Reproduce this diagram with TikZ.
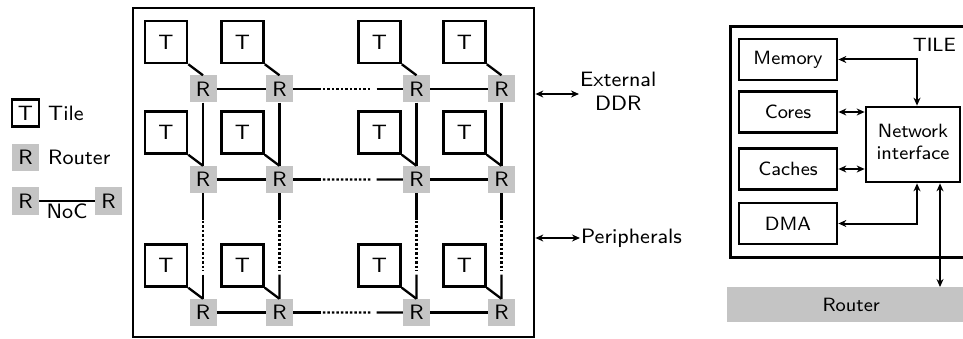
\documentclass[tikz,border=0pt]{standalone}
\usetikzlibrary{arrows.meta,calc}
\definecolor{rgray}{RGB}{196,196,196}
\newcommand{\lefttxt}[1]{\scalebox{2.6}{\sffamily\fontsize{8}{9}\selectfont #1}}
\newcommand{\leftstack}[1]{\scalebox{2.6}{\sffamily\fontsize{8}{9}\selectfont\begin{tabular}{@{}c@{}}#1\end{tabular}}}
\newcommand{\righttxt}[1]{\scalebox{2.4}{\sffamily\fontsize{8}{9.2}\selectfont #1}}
\newcommand{\rightstack}[1]{\scalebox{2.4}{\sffamily\fontsize{8}{9.2}\selectfont\begin{tabular}{@{}c@{}}#1\end{tabular}}}
\begin{document}
\begin{tikzpicture}[x=1pt,y=-1pt,
  tilebox/.style={draw, line width=2.5pt, minimum width=42pt, minimum height=42pt, inner sep=0pt},
  rnode/.style={fill=rgray, minimum size=27pt, inner sep=0pt},
  link/.style={line width=2.3pt},
  dotlink/.style={line width=2.3pt, dash pattern=on 2.5pt off 2pt},
  biarrow/.style={line width=2pt, {Stealth[length=8pt,width=7pt]}-{Stealth[length=8pt,width=7pt]}},
  blk/.style={draw, line width=2.7pt, minimum width=98pt, minimum height=41pt, inner sep=0pt},
]
\useasboundingbox (0,0) rectangle (963,339);
% chip
\node[draw, line width=2.7pt, minimum width=401pt, minimum height=329pt, inner sep=0pt] (chip) at (333.5,172.5) {};
% grid
\foreach \c/\x in {1/203,2/279.5,3/416.5,4/501.5}{
  \foreach \r/\y in {1/89,2/179.5,3/312.5}{
    \node[rnode] (R\r\c) at (\x,\y) {\lefttxt{R}};
    \node[tilebox] (T\r\c) at (\x-37,\y-47) {\lefttxt{T}};
    \draw[link] (T\r\c.south east) -- (R\r\c.north);
  }
}
\foreach \r in {1,2,3}{
  \draw[link] (R\r1) -- (R\r2);
  \draw[link] (R\r3) -- (R\r4);
  \draw[link] (R\r2.east) -- ($(R\r2.east)!0.25!(R\r3.west)$);
  \draw[dotlink] ($(R\r2.east)!0.27!(R\r3.west)$) -- ($(R\r2.east)!0.72!(R\r3.west)$);
  \draw[link] ($(R\r2.east)!0.76!(R\r3.west)$) -- (R\r3.west);
}
\foreach \c in {1,2,3,4}{
  \draw[link] (R1\c) -- (R2\c);
  \draw[link] (R2\c.south) -- ($(R2\c.south)!0.25!(R3\c.north)$);
  \draw[dotlink] ($(R2\c.south)!0.26!(R3\c.north)$) -- ($(R2\c.south)!0.74!(R3\c.north)$);
  \draw[link] ($(R2\c.south)!0.77!(R3\c.north)$) -- (R3\c.north);
}
% external
\node[anchor=west, inner sep=1pt] (ddr) at (579,94) {\leftstack{External\\DDR}};
\draw[biarrow] (chip.east |- ddr.west) -- (ddr.west);
\node[anchor=west, inner sep=1pt] (per) at (580,238) {\lefttxt{Peripherals}};
\draw[biarrow] (chip.east |- per.west) -- (per.west);
% legend
\node[tilebox, minimum width=27pt, minimum height=27pt] (lt) at (25.5,113) {\lefttxt{T}};
\node[anchor=west, inner sep=1pt] (ltt) at (47,113) {\lefttxt{Tile}};
\node[rnode] (lr) at (25.5,157.5) {\lefttxt{R}};
\node[anchor=west, inner sep=1pt] (lrt) at (47,157.5) {\lefttxt{Router}};
\node[rnode] (la) at (25.5,201) {\lefttxt{R}};
\node[rnode] (lb) at (108.5,201) {\lefttxt{R}};
\draw[link] (la) -- node[below, inner sep=2pt] (noc) {\lefttxt{NoC}} (lb);
% tile detail
\node[draw, line width=2.7pt, anchor=north west, minimum width=250pt, minimum height=231pt, inner sep=0pt] (tile) at (729,25) {};
\node[anchor=east, inner sep=1pt] (tl) at (957,45) {\righttxt{TILE}};
\node[blk] (mem) at (788,59.5) {\righttxt{Memory}};
\node[blk] (cor) at (788,112) {\righttxt{Cores}};
\node[blk] (cac) at (788,169) {\righttxt{Caches}};
\node[blk] (dma) at (788,223.5) {\righttxt{DMA}};
\node[draw, line width=2.7pt, minimum width=94pt, minimum height=75pt, inner sep=0pt] (ni) at (913,144.5) {\rightstack{Network\\interface}};
\node[fill=rgray, anchor=north west, minimum width=250pt, minimum height=35pt, inner sep=0pt] (rbar) at (727,287) {\hspace*{-2pt}\righttxt{Router}};
\coordinate (mv) at (917,0);
\coordinate (rv) at (940,0);
\draw[biarrow] (mem.east) -| (ni.north -| mv);
\draw[biarrow] (dma.east) -| (ni.south -| mv);
\draw[biarrow] (cor.east) -- (cor.east -| ni.west);
\draw[biarrow] (cac.east) -- (cac.east -| ni.west);
\draw[biarrow] (ni.south -| rv) -- (rbar.north -| rv);
\end{tikzpicture}
\end{document}
